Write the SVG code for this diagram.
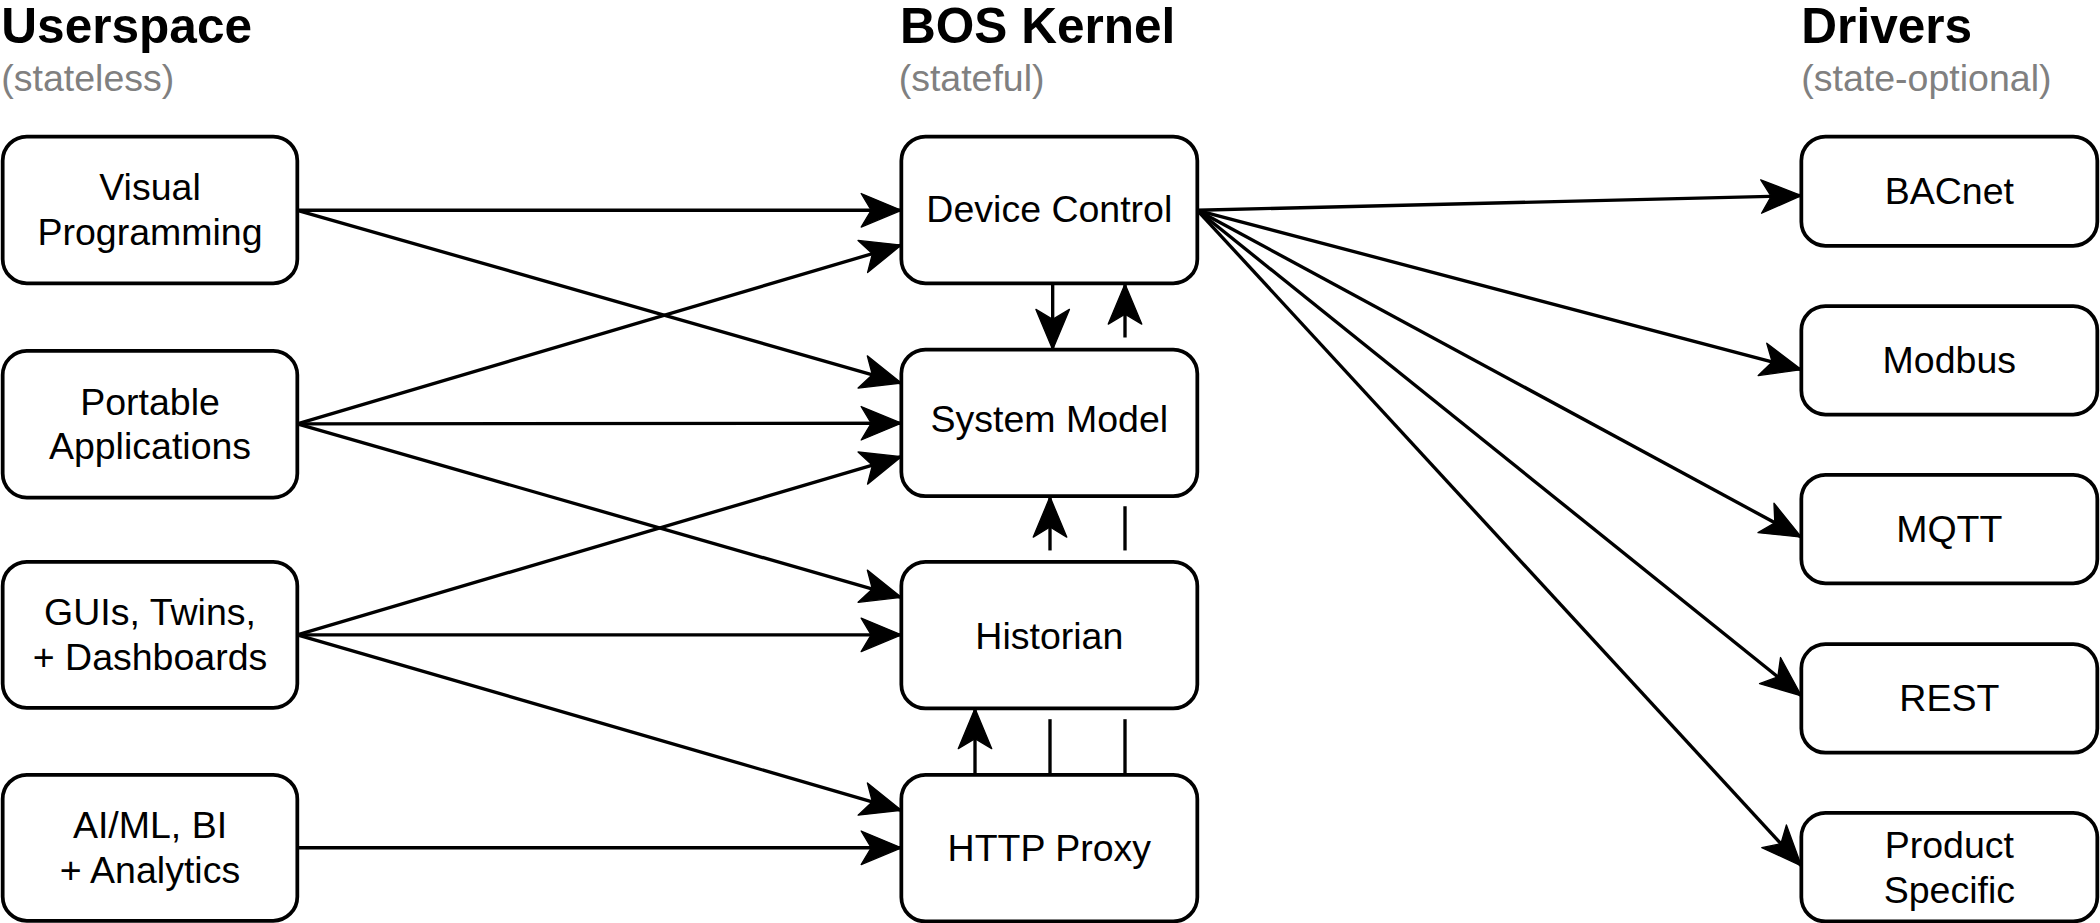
<svg xmlns="http://www.w3.org/2000/svg" width="2100" height="923" viewBox="0 0 2100 923">
<style>
.box{fill:#fff;stroke:#000;stroke-width:2.8}
.t{font-family:"Liberation Sans",Arial,Helvetica,sans-serif;font-size:28px;fill:#000;text-anchor:middle}
.h{font-family:"Liberation Sans",Arial,Helvetica,sans-serif;font-size:37px;font-weight:bold;fill:#000}
.s{font-family:"Liberation Sans",Arial,Helvetica,sans-serif;font-size:28px;fill:#808080}
.e{fill:none;stroke:#000;stroke-width:2.5}
.a{marker-end:url(#ah)}
</style>
<defs>
<marker id="ah" markerUnits="userSpaceOnUse" viewBox="-32 -14 34 28" markerWidth="34" markerHeight="28" refX="0" refY="0" orient="auto" overflow="visible">
<path d="M0,0 L-30,-12.5 L-22.5,0 L-30,12.5 Z" fill="#000" stroke="#000" stroke-width="1" stroke-linejoin="round"/>
</marker>
</defs>
<rect width="2100" height="923" fill="#fff"/>
<g transform="scale(1.339286)">
<g id="headers">
<text class="h" x="1" y="32">Userspace</text>
<text class="s" x="1" y="68">(stateless)</text>
<text class="h" x="672" y="32">BOS Kernel</text>
<text class="s" x="671" y="68">(stateful)</text>
<text class="h" x="1345" y="32">Drivers</text>
<text class="s" x="1345" y="68">(state-optional)</text>
</g>
<g id="visual-programming"><rect class="box" x="2" y="102" width="220" height="109.5" rx="18"/><text class="t" x="112" y="149.5">Visual</text><text class="t" x="112" y="183">Programming</text></g>
<g id="portable-applications"><rect class="box" x="2" y="262" width="220" height="109.5" rx="18"/><text class="t" x="112" y="309.5">Portable</text><text class="t" x="112" y="343">Applications</text></g>
<g id="guis"><rect class="box" x="2" y="419.5" width="220" height="109" rx="18"/><text class="t" x="112" y="467">GUIs, Twins,</text><text class="t" x="112" y="500.5">+ Dashboards</text></g>
<g id="aiml"><rect class="box" x="2" y="578.5" width="220" height="109" rx="18"/><text class="t" x="112" y="626">AI/ML, BI</text><text class="t" x="112" y="659.5">+ Analytics</text></g>
<g id="device-control"><rect class="box" x="673" y="102" width="221" height="109.5" rx="18"/><text class="t" x="783.5" y="166">Device Control</text></g>
<g id="system-model"><rect class="box" x="673" y="261" width="221" height="109.5" rx="18"/><text class="t" x="783.5" y="322.5">System Model</text></g>
<g id="historian"><rect class="box" x="673" y="419.5" width="221" height="109.5" rx="18"/><text class="t" x="783.5" y="484.5">Historian</text></g>
<g id="http-proxy"><rect class="box" x="673" y="578.5" width="221" height="109.5" rx="18"/><text class="t" x="783.5" y="643">HTTP Proxy</text></g>
<g id="bacnet"><rect class="box" x="1345" y="102" width="221" height="81.5" rx="18"/><text class="t" x="1455.5" y="152.5">BACnet</text></g>
<g id="modbus"><rect class="box" x="1345" y="228.5" width="221" height="81" rx="18"/><text class="t" x="1455.5" y="278.5">Modbus</text></g>
<g id="mqtt"><rect class="box" x="1345" y="354.5" width="221" height="81" rx="18"/><text class="t" x="1455.5" y="404.5">MQTT</text></g>
<g id="rest"><rect class="box" x="1345" y="481" width="221" height="81" rx="18"/><text class="t" x="1455.5" y="531">REST</text></g>
<g id="product-specific"><rect class="box" x="1345" y="607" width="221" height="81" rx="18"/><text class="t" x="1455.5" y="640.5">Product</text><text class="t" x="1455.5" y="674">Specific</text></g>
<g id="connectors">
<path class="e a" d="M222,157 L673,157"/>
<path class="e a" d="M222,157 L673,286"/>
<path class="e a" d="M222,316.5 L673,183"/>
<path class="e a" d="M222,316.5 L673,316"/>
<path class="e a" d="M222,316.5 L673,446"/>
<path class="e a" d="M222,474 L673,341"/>
<path class="e a" d="M222,474 L673,474"/>
<path class="e a" d="M222,474 L673,605"/>
<path class="e a" d="M222,633 L673,633"/>
<path class="e a" d="M894,157 L1345,146"/>
<path class="e a" d="M894,157 L1345,276"/>
<path class="e a" d="M894,157 L1345,401"/>
<path class="e a" d="M894,157 L1345,519.5"/>
<path class="e a" d="M894,157 L1345,646.5"/>
<path class="e a" d="M786,212 L786,261"/>
<path class="e a" d="M840,252 L840,212"/>
<path class="e a" d="M784,411 L784,371"/>
<path class="e" d="M840,378 L840,411"/>
<path class="e a" d="M728,578 L728,529"/>
<path class="e" d="M784,537 L784,578"/>
<path class="e" d="M840,537 L840,578"/>
</g>
</g>
</svg>
